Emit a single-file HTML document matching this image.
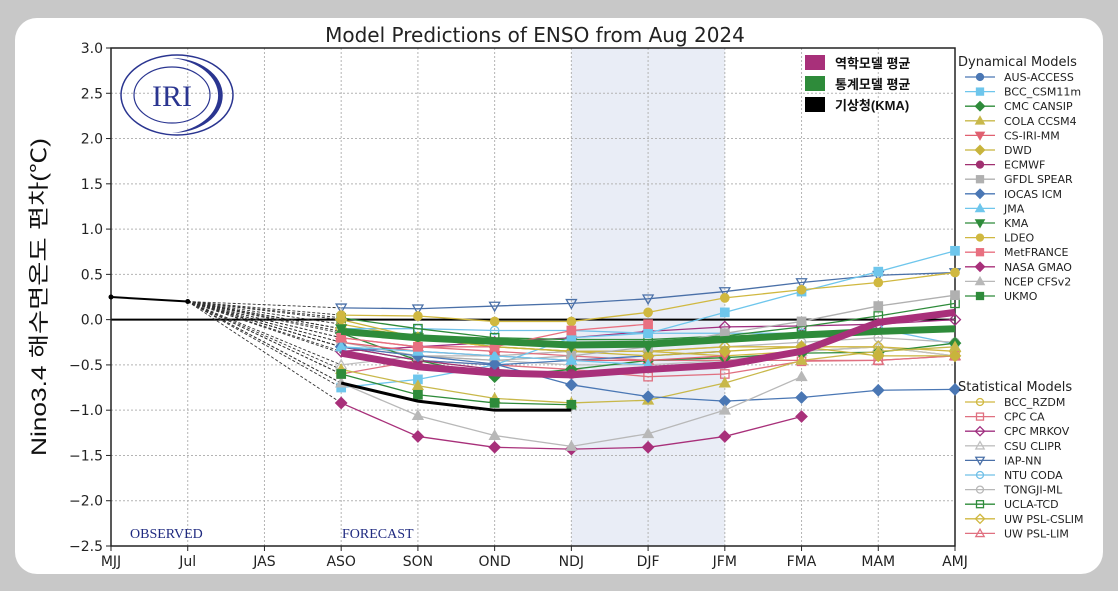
<!DOCTYPE html>
<html><head><meta charset="utf-8">
<style>
html,body{margin:0;padding:0;background:#c8c8c8;}
body{width:1118px;height:591px;position:relative;overflow:hidden;font-family:"DejaVu Sans","Liberation Sans",sans-serif;}
#card{position:absolute;left:15px;top:18px;width:1088px;height:556px;background:#fff;border-radius:22px;}
svg{position:absolute;left:0;top:0;}
</style></head>
<body>
<div id="card"></div>
<svg id="chart" width="1118" height="591"></svg>
<script>
const categories=["MJJ","Jul","JAS","ASO","SON","OND","NDJ","DJF","JFM","FMA","MAM","AMJ"];
const yTicks=[3.0,2.5,2.0,1.5,1.0,0.5,0.0,-0.5,-1.0,-1.5,-2.0,-2.5];
const observed=[0.25,0.2];
const dynNames=["AUS-ACCESS","BCC_CSM11m","CMC CANSIP","COLA CCSM4","CS-IRI-MM","DWD","ECMWF","GFDL SPEAR","IOCAS ICM","JMA","KMA","LDEO","MetFRANCE","NASA GMAO","NCEP CFSv2","UKMO"];
const dynColors=["#4a77b4","#6ec6ec","#2e8b3a","#c8b84a","#e06070","#c8b43c","#a03070","#b0b0b0","#4a77b4","#6ec6ec","#2e8b3a","#d0b840","#e87080","#a8307a","#b8b8b8","#2e8b3a"];
const dynMarkers=["o","s","d","^","v","d","o","s","d","^","v","o","s","d","^","s"];
const dynValues=[
[-0.3,-0.45,-0.5,-0.45,-0.4,-0.35,null,null,null],
[-0.75,-0.66,-0.5,-0.2,-0.15,0.08,0.31,0.53,0.76],
[-0.15,-0.45,-0.63,-0.55,-0.45,-0.42,-0.37,-0.36,-0.26],
[-0.55,-0.73,-0.87,-0.92,-0.89,-0.7,-0.45,-0.35,-0.3],
[-0.25,-0.35,-0.4,-0.45,-0.45,-0.4,null,null,null],
[0.0,-0.2,-0.3,-0.35,-0.4,-0.35,-0.3,-0.4,-0.4],
[-0.3,-0.45,-0.55,-0.6,null,null,null,null,null],
[-0.3,-0.4,-0.45,-0.4,-0.3,-0.15,-0.02,0.15,0.27],
[-0.3,-0.4,-0.49,-0.72,-0.85,-0.9,-0.86,-0.78,-0.77],
[-0.3,-0.35,-0.4,-0.45,-0.5,null,null,null,null],
[-0.1,-0.2,-0.25,-0.3,-0.3,null,null,null,null],
[0.05,0.04,-0.02,-0.02,0.08,0.24,0.33,0.41,0.52],
[-0.2,-0.3,-0.3,-0.12,-0.05,null,null,null,null],
[-0.92,-1.29,-1.41,-1.43,-1.41,-1.29,-1.07,null,null],
[-0.7,-1.06,-1.28,-1.40,-1.26,-1.0,-0.63,null,null],
[-0.6,-0.83,-0.92,-0.94,null,null,null,null,null]];
const statNames=["BCC_RZDM","CPC CA","CPC MRKOV","CSU CLIPR","IAP-NN","NTU CODA","TONGJI-ML","UCLA-TCD","UW PSL-CSLIM","UW PSL-LIM"];
const statColors=["#d0b840","#e07080","#a03080","#c0c0c0","#4a70a8","#70c0e8","#b8b8b8","#2e8b3a","#d0b840","#e07080"];
const statMarkers=["o","s","d","^","v","o","o","s","d","^"];
const statValues=[
[-0.05,-0.2,-0.3,-0.35,-0.35,-0.4,-0.35,-0.3,-0.4],
[-0.6,-0.45,-0.5,-0.55,-0.63,-0.6,-0.46,-0.45,-0.4],
[-0.35,-0.3,-0.25,-0.2,-0.13,-0.08,-0.07,-0.05,0.0],
[-0.5,-0.4,-0.45,-0.5,-0.5,-0.45,-0.35,-0.3,-0.4],
[0.13,0.12,0.15,0.18,0.23,0.31,0.41,0.49,0.52],
[-0.1,-0.1,-0.12,-0.12,-0.15,-0.15,-0.15,-0.1,-0.27],
[-0.25,-0.4,-0.4,-0.35,-0.35,-0.3,-0.25,-0.2,-0.25],
[0.02,-0.1,-0.2,-0.22,-0.22,-0.18,-0.08,0.04,0.18],
[-0.1,-0.2,-0.3,-0.35,-0.35,-0.3,-0.3,-0.3,-0.35],
[-0.2,-0.3,-0.35,-0.4,-0.45,-0.45,-0.45,-0.45,-0.4]];
const dynMean=[-0.37,-0.52,-0.59,-0.61,-0.55,-0.50,-0.35,-0.03,0.08];
const statMean=[-0.13,-0.2,-0.24,-0.28,-0.27,-0.22,-0.17,-0.13,-0.10];
const kmaValues=[-0.7,-0.9,-1.0,-1.0];
const forecastStart=3;

const NS="http://www.w3.org/2000/svg";
const svg=document.getElementById('chart');
const L=111,R=955,T=48,B=546,YMAX=3,YMIN=-2.5;
const x=i=>L+i*(R-L)/(categories.length-1);
const y=v=>T+(YMAX-v)*(B-T)/(YMAX-YMIN);
function el(tag,attrs,parent){const e=document.createElementNS(NS,tag);for(const k in attrs)e.setAttribute(k,attrs[k]);(parent||svg).appendChild(e);return e;}
function txt(s,attrs,parent){const e=el('text',attrs,parent);e.textContent=s;return e;}

const band=el('rect',{x:x(6),y:T,width:x(8)-x(6),height:B-T,fill:'#e9edf6'});


const grid=el('g',{stroke:'#b4b4b4','stroke-width':1,'stroke-dasharray':'2,2'});


categories.forEach((c,i)=>el('line',{x1:x(i),x2:x(i),y1:T,y2:B},grid));
yTicks.forEach(v=>el('line',{x1:L,x2:R,y1:y(v),y2:y(v)},grid));
el('line',{x1:L,x2:R,y1:y(0),y2:y(0),stroke:'#000','stroke-width':2});
const frame=el('rect',{x:L,y:T,width:R-L,height:B-T,fill:'none',stroke:'#222','stroke-width':1.5});


yTicks.forEach(v=>{el('line',{x1:L-5,x2:L,y1:y(v),y2:y(v),stroke:'#222'});
 const t=txt(v.toFixed(1).replace('-','\u2212'),{x:L-8,y:y(v)+5,'text-anchor':'end','font-size':14,fill:'#222'});
 
 });
categories.forEach((c,i)=>{el('line',{x1:x(i),x2:x(i),y1:B,y2:B+5,stroke:'#222'});
 const t=txt(c,{x:x(i),y:B+20,'text-anchor':'middle','font-size':14,fill:'#222'});
 
 });

function marker(type,cx,cy,color,filled,sz,parent){
 const f=filled?color:'none',sw=1.3,s=sz;
 let m;
 if(type==='o')m=el('circle',{cx,cy,r:s,fill:f,stroke:color,'stroke-width':sw},parent);
 else if(type==='s')m=el('rect',{x:cx-s,y:cy-s,width:2*s,height:2*s,fill:f,stroke:color,'stroke-width':sw},parent);
 else if(type==='d')m=el('polygon',{points:`${cx},${cy-s*1.3} ${cx+s*1.3},${cy} ${cx},${cy+s*1.3} ${cx-s*1.3},${cy}`,fill:f,stroke:color,'stroke-width':sw},parent);
 else if(type==='^')m=el('polygon',{points:`${cx},${cy-s*1.2} ${cx+s*1.2},${cy+s*0.9} ${cx-s*1.2},${cy+s*0.9}`,fill:f,stroke:color,'stroke-width':sw},parent);
 else m=el('polygon',{points:`${cx},${cy+s*1.2} ${cx+s*1.2},${cy-s*0.9} ${cx-s*1.2},${cy-s*0.9}`,fill:f,stroke:color,'stroke-width':sw},parent);
 return m;}

const conn=el('g',{stroke:'#333','stroke-width':0.9,'stroke-dasharray':'3,2',fill:'none'});


[...dynValues,...statValues,dynMean,statMean,kmaValues].forEach(vals=>{
 if(vals[0]!=null)el('line',{x1:x(1),y1:y(observed[1]),x2:x(forecastStart),y2:y(vals[0])},conn);});

function series(vals,color,mk,filled,name){
 const g=el('g',{});
 
 
 const pts=[];vals.forEach((v,i)=>{if(v!=null)pts.push([x(i+forecastStart),y(v)]);});
 el('polyline',{points:pts.map(p=>p.join(',')).join(' '),fill:'none',stroke:color,'stroke-width':1.3},g);
 pts.forEach(p=>marker(mk,p[0],p[1],color,filled,4.2,g));}
statValues.forEach((v,i)=>series(v,statColors[i],statMarkers[i],false,statNames[i]));
dynValues.forEach((v,i)=>series(v,dynColors[i],dynMarkers[i],true,dynNames[i]));

function thick(vals,color,w,name){
 const p=el('polyline',{points:vals.map((v,i)=>x(i+forecastStart)+','+y(v)).join(' '),fill:'none',stroke:color,'stroke-width':w,'stroke-linejoin':'round'});
 
 }
thick(statMean,'#2e8b3a',7,'statistical-mean-line');
thick(dynMean,'#a8307a',7,'dynamical-mean-line');
thick(kmaValues,'#000',3,'kma-line');

const obs=el('polyline',{points:observed.map((v,i)=>x(i)+','+y(v)).join(' '),fill:'none',stroke:'#000','stroke-width':2});


observed.forEach((v,i)=>el('circle',{cx:x(i),cy:y(v),r:2.5,fill:'#000'}));

const title=txt('Model Predictions of ENSO from Aug 2024',{x:535,y:42,'text-anchor':'middle','font-size':20,fill:'#222'});


const yl=txt('Nino3.4 해수면온도 편차(℃)',{x:0,y:0,'text-anchor':'middle','font-size':21,fill:'#111','font-family':'"Liberation Sans","Noto Sans CJK KR",sans-serif',transform:'translate(46,297) rotate(-90)',textLength:318,lengthAdjust:'spacingAndGlyphs'});


const o1=txt('OBSERVED',{x:130,y:538,'font-size':14,fill:'#1f2a80','font-family':'"Liberation Serif",serif'});


const o2=txt('FORECAST',{x:342,y:538,'font-size':14,fill:'#1f2a80','font-family':'"Liberation Serif",serif'});



const logo=el('g',{});


el('ellipse',{cx:177,cy:95,rx:56,ry:40,fill:'none',stroke:'#2a3590','stroke-width':1.5},logo);
el('path',{d:'M172,58 A55,38 0 0,1 172,133 A46,34 0 0,0 172,58 Z',fill:'#2a3590'},logo);
el('ellipse',{cx:172,cy:95,rx:38,ry:28,fill:'none',stroke:'#2a3590','stroke-width':1.2},logo);
txt('IRI',{x:172,y:106,'text-anchor':'middle','font-size':30,fill:'#2a3590','font-family':'"Liberation Serif",serif'},logo);

const kl=el('g',{});


[['역학모델 평균','#a8307a'],['통계모델 평균','#2e8b3a'],['기상청(KMA)','#000']].forEach((e,i)=>{
 const yy=63+i*21;
 el('rect',{x:805,y:yy-8,width:20,height:15,fill:e[1]},kl);
 txt(e[0],{x:835,y:yy+5,'font-size':13,'font-weight':'bold',fill:'#111','font-family':'"Liberation Sans","Noto Sans CJK KR",sans-serif'},kl);});

function legend(titleS,ty,names,colors,markers,filled,dname){
 const g=el('g',{});
 
 
 txt(titleS,{x:958,y:ty+5,'font-size':13,fill:'#222'},g);
 names.forEach((n,i)=>{const yy=ty+16+i*14.6;
  el('line',{x1:965,x2:995,y1:yy,y2:yy,stroke:colors[i],'stroke-width':1.3},g);
  marker(markers[i],980,yy,colors[i],filled,3.5,g);
  const t=txt(n,{x:1004,y:yy+4,'font-size':11,fill:'#222'},g);
  
  });}
legend('Dynamical Models',61,dynNames,dynColors,dynMarkers,true,'dynamical-legend');
legend('Statistical Models',386,statNames,statColors,statMarkers,false,'statistical-legend');
</script>
</body></html>
